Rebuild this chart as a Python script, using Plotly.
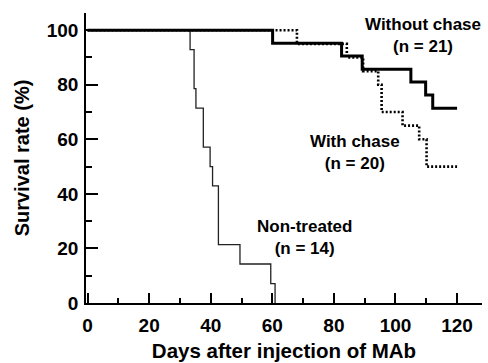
import plotly.graph_objects as go

# Kaplan-Meier style survival data (days, survival %)
nontreated_days = [0, 33.3, 34.6, 35.2, 37.6, 39.8, 40.6, 42.5, 49.5, 59.5, 60.9]
nontreated_surv = [100, 92.9, 78.6, 71.4, 57.1, 50.0, 42.9, 21.4, 14.3, 7.1, 0]

with_days = [0, 68.0, 84.2, 89.5, 94.4, 95.5, 102.3, 107.7, 110.1, 120]
with_surv = [100, 95, 90, 85, 80, 70, 65, 60, 50, 50]

without_days = [0, 60.1, 82.5, 89.2, 105.0, 109.8, 112.1, 120]
without_surv = [100, 95.2, 90.5, 85.7, 81.0, 76.2, 71.4, 71.4]

x_ticks = [0, 20, 40, 60, 80, 100, 120]
y_ticks = [0, 20, 40, 60, 80, 100]

FONT = "Liberation Sans, Arial, Helvetica, sans-serif"

fig = go.Figure()
fig.add_trace(go.Scatter(x=nontreated_days, y=nontreated_surv, mode="lines",
                         line=dict(shape="hv", color="#222222", width=1.3),
                         cliponaxis=False, showlegend=False))
fig.add_trace(go.Scatter(x=with_days, y=with_surv, mode="lines",
                         line=dict(shape="hv", color="black", width=2.6, dash="2px,2px"),
                         cliponaxis=False, showlegend=False))
fig.add_trace(go.Scatter(x=without_days, y=without_surv, mode="lines",
                         line=dict(shape="hv", color="black", width=3),
                         cliponaxis=False, showlegend=False))

ann_font = dict(family=FONT, size=17, color="black", weight="bold")
fig.add_annotation(x=109, y=98.2, text="Without chase<br>(n = 21)", showarrow=False,
                   font=ann_font, align="center", xanchor="center", yanchor="middle")
fig.add_annotation(x=86.9, y=55.3, text="With chase<br>(n = 20)", showarrow=False,
                   font=ann_font, align="center", xanchor="center", yanchor="middle")
fig.add_annotation(x=70.5, y=24.0, text="Non-treated<br>(n = 14)", showarrow=False,
                   font=ann_font, align="center", xanchor="center", yanchor="middle")

fig.update_layout(
    width=488, height=363,
    margin=dict(l=86, r=6, t=13, b=60, autoexpand=False),
    paper_bgcolor="white", plot_bgcolor="white",
    font=dict(family=FONT, color="black"),
    xaxis=dict(range=[-0.5, 128.1], tickvals=x_ticks, ticktext=[str(v) for v in x_ticks],
               automargin=False, ticklabelstandoff=4,
               ticks="inside", ticklen=10, tickwidth=1.5, tickcolor="black",
               minor=dict(ticks="inside", ticklen=5, tickwidth=1.5, dtick=10, tick0=0, tickcolor="black"),
               showline=True, linewidth=1.5, linecolor="black", showgrid=False, zeroline=False,
               tickfont=dict(family=FONT, size=19, color="black", weight="bold"),
               title=dict(text="Days after injection of MAb", standoff=9,
                          font=dict(family=FONT, size=20.5, color="black", weight="bold"))),
    yaxis=dict(range=[0, 106.3], tickvals=y_ticks, ticktext=[str(v) for v in y_ticks],
               automargin=False, ticklabelstandoff=2,
               ticks="inside", ticklen=12, tickwidth=1.5, tickcolor="black",
               minor=dict(ticks="inside", ticklen=6, tickwidth=1.5, dtick=10, tick0=0, tickcolor="black"),
               showline=True, linewidth=1.5, linecolor="black", showgrid=False, zeroline=False,
               tickfont=dict(family=FONT, size=19, color="black", weight="bold"),
               title=dict(text="Survival rate (%)", standoff=12,
                          font=dict(family=FONT, size=20, color="black", weight="bold"))),
)

fig.write_html("out.html", config={"displayModeBar": False},
               post_script="document.body.style.margin='0';document.body.style.overflow='hidden';")
